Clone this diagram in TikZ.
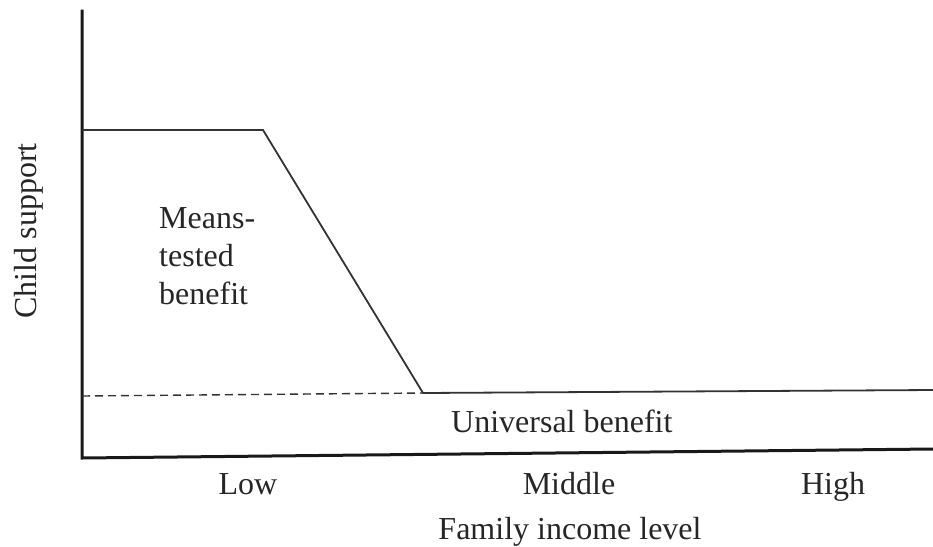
\documentclass[tikz,border=0pt]{standalone}
\usepackage{fontspec}
\setmainfont{Liberation Serif}
\begin{document}
\begin{tikzpicture}[x=1pt,y=-1pt,
  lbl/.style={inner sep=0pt,text=black!85,font=\fontsize{32}{38}\selectfont},
  axis/.style={line width=3pt,draw=black!90,line cap=rect},
  curve/.style={line width=1.8pt,draw=black!80,line join=miter},
  univdash/.style={line width=1.4pt,draw=black!80,dash pattern=on 8pt off 5pt}]
\useasboundingbox (0,0) rectangle (933,546);
% coordinates
\coordinate (ytop) at (82,11);
\coordinate (origin) at (82,458);
\coordinate (xend) at (933,449);
\coordinate (m0) at (82,130);
\coordinate (m1) at (263,130);
\coordinate (m2) at (423,393);
\coordinate (m3) at (933,390);
\coordinate (d0) at (82,396);
% axes
\draw[axis] (ytop) -- (origin) -- (xend);
% benefit lines
\draw[curve] (m0) -- (m1) -- (m2) -- (m3);
\draw[univdash] (d0) -- (m2);
% labels
\node[lbl,anchor=base west] (mt1) at (159,228) {Means-};
\node[lbl,anchor=base west] (mt2) at (159,266) {tested};
\node[lbl,anchor=base west] (mt3) at (159,304) {benefit};
\node[lbl,anchor=base west] (univ) at (451,432) {Universal benefit};
\node[lbl,anchor=base] (low) at (248,494) {Low};
\node[lbl,anchor=base] (mid) at (569,494) {Middle};
\node[lbl,anchor=base] (high) at (833,494) {High};
\node[lbl,anchor=base] (xlab) at (570,539) {Family income level};
\node[lbl,anchor=base,rotate=90] (ylab) at (36,231) {Child support};
\end{tikzpicture}
\end{document}
